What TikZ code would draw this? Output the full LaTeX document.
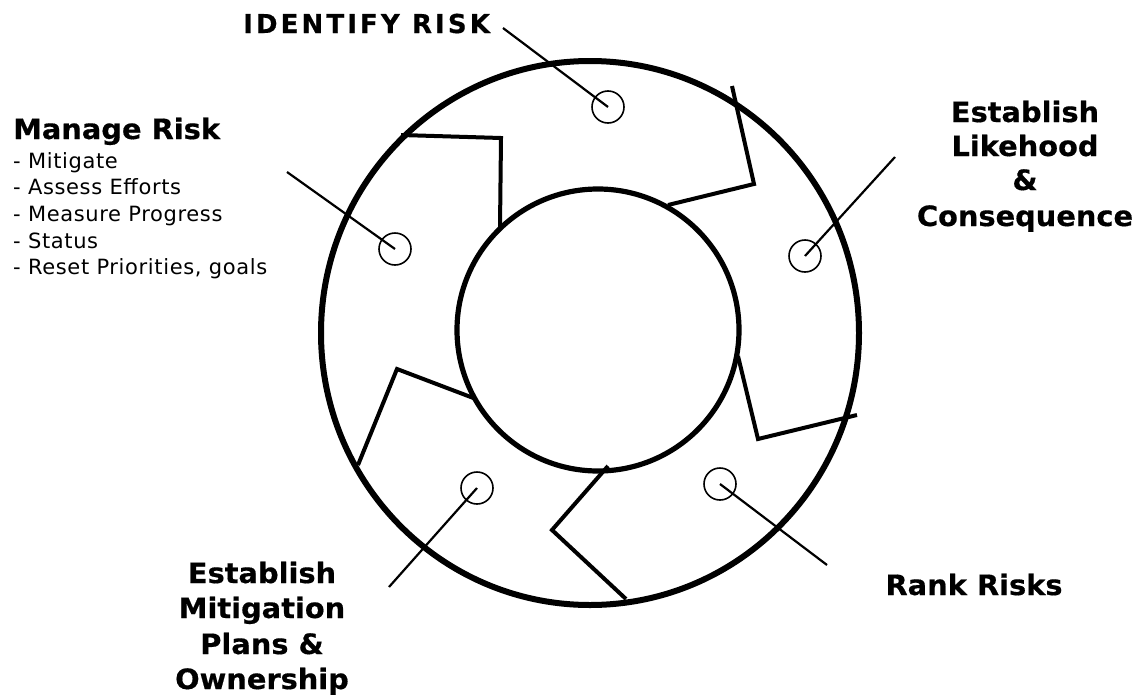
\documentclass[tikz,border=0pt]{standalone}
\usepackage{fontspec}
\setmainfont{DejaVu Sans}
\newfontfamily\headfont{DejaVu Sans}[FakeStretch=1.03, BoldFeatures={FakeBold=0.5}]
\newfontfamily\idfont{DejaVu Sans}[LetterSpace=12, BoldFeatures={FakeBold=0.5}]
\newfontfamily\listfont{DejaVu Sans}[LetterSpace=3]
\usetikzlibrary{calc}

\tikzset{
  ring/.style={line width=6pt},
  hub/.style={line width=5.2pt},
  chevron/.style={line width=4pt},
  dot/.style={circle, draw, line width=1.6pt, minimum size=32pt, inner sep=0pt},
  leader/.style={line width=2.2pt},
  title/.style={font=\headfont\bfseries\fontsize{28}{34}\selectfont, inner sep=0pt},
  item/.style={font=\listfont\fontsize{21}{26}\selectfont, inner sep=0pt, anchor=base west},
}

\begin{document}
\begin{tikzpicture}[x=1pt, y=-1pt]

\fill[white] (0,0) rectangle (1144,694);

% === Wheel ===
\draw[ring] (590,333) ellipse [x radius=269, y radius=272];
\draw[hub] (598,330) circle [radius=141];

% arrows round the wheel
\draw[chevron] (401,135) -- (501,138) -- (500,227);
\draw[chevron] (732,86) -- (754,184) -- (668,205);
\draw[chevron] (738,356) -- (758,439) -- (857,415);
\draw[chevron] (608,466) -- (552,530) -- (626,599);
\draw[chevron] (476,399) -- (397,369) -- (358,465);

% === Steps ===
\node[dot] (identify) at (608,107) {};
\node[dot] (likely) at (805,256) {};
\node[dot] (rank) at (720,484) {};
\node[dot] (plans) at (477,488) {};
\node[dot] (manage) at (395,249) {};

\coordinate (identify-end) at (503,28);
\coordinate (likely-end) at (895,157);
\coordinate (rank-end) at (827,565);
\coordinate (plans-end) at (389,587);
\coordinate (manage-end) at (287,172);

\draw[leader] (identify-end) -- (identify.center);
\draw[leader] (likely-end) -- (likely.center);
\draw[leader] (rank-end) -- (rank.center);
\draw[leader] (plans-end) -- (plans.center);
\draw[leader] (manage-end) -- (manage.center);

% === Labels ===
\node[title, anchor=base west, font=\idfont\bfseries\fontsize{26}{30}\selectfont] (identify-txt) at (243,33) {IDENTIFY RISK};

\node[title, anchor=base] (likely-txt1) at (1025,122) {Establish};
\node[title, anchor=base] (likely-txt2) at (1025,156) {Likehood};
\node[title, anchor=base] (likely-txt3) at (1025,190) {\&};
\node[title, anchor=base] (likely-txt4) at (1025,226) {Consequence};

\node[title, anchor=base] (rank-txt) at (974,595) {Rank Risks};

\node[title, anchor=base] (plans-txt1) at (262,583) {Establish};
\node[title, anchor=base] (plans-txt2) at (262,618) {Mitigation};
\node[title, anchor=base] (plans-txt3) at (262,654) {Plans \&};
\node[title, anchor=base] (plans-txt4) at (262,689) {Ownership};

\node[title, anchor=base west] (manage-txt) at (13,139) {Manage Risk};
\foreach \t [count=\i from 0] in {Mitigate, Assess Efforts, Measure Progress, Status, {Reset Priorities, goals}}
  \node[item] (manage-item\i) at (13,168+26.7*\i) {- \t};

\end{tikzpicture}
\end{document}
